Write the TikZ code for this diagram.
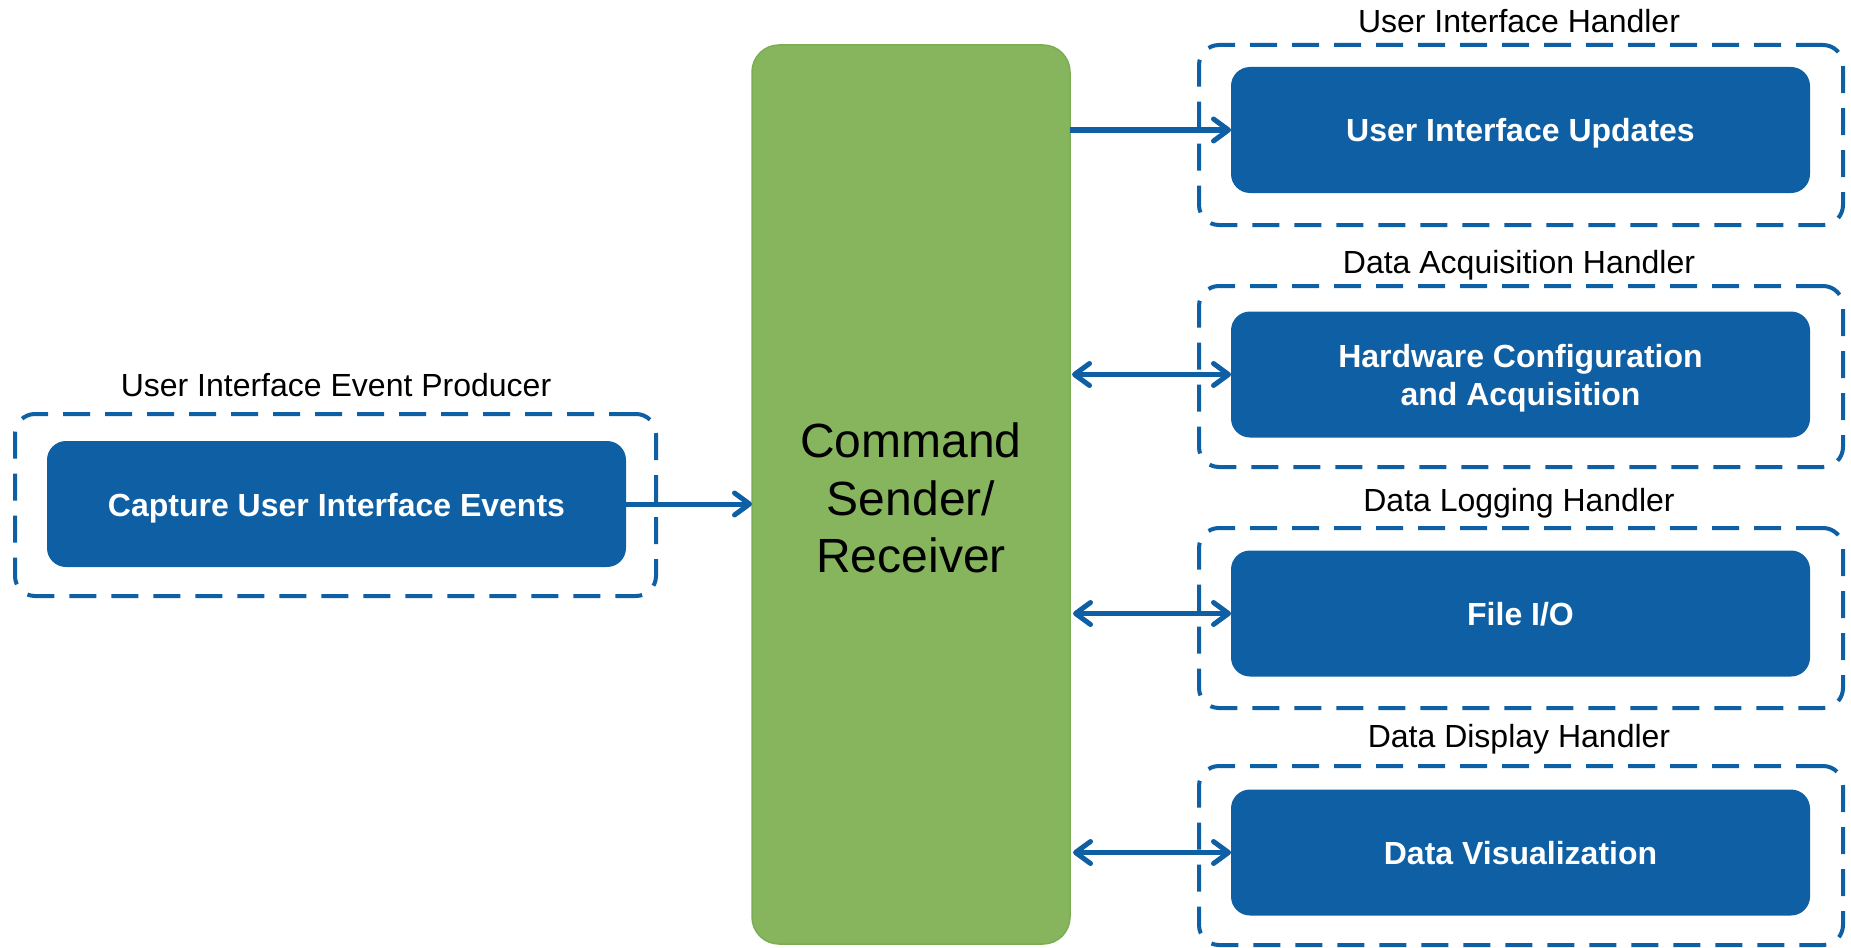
\documentclass[tikz,border=0pt]{standalone}
\usepackage{fontspec}
\setmainfont{Liberation Sans}
\usetikzlibrary{arrows.meta}
\definecolor{niblue}{HTML}{0E5FA3}
\definecolor{cmdgreen}{HTML}{86B55D}
\definecolor{cmdgreenline}{HTML}{7BAE52}
\begin{document}
\begin{tikzpicture}[x=1pt,y=-1pt,
  every node/.style={inner sep=0pt,outer sep=0pt},
  task/.style={fill=niblue,rounded corners=19pt,minimum width=579pt,minimum height=126pt,
    text=white,align=center,font=\fontsize{32}{38.4}\selectfont\bfseries,
    text height=24pt,text depth=0pt},
  group/.style={draw=niblue,line width=4pt,dash pattern=on 27pt off 15pt,
    rounded corners=20pt,minimum width=641pt},
  grouplabel/.style={font=\fontsize{32}{38.4}\selectfont,text=black},
  link/.style={draw=niblue,line width=5pt},
  tip/.tip={Straight Barb[length=15pt,width=22pt,line width=5pt,round]}]
\useasboundingbox (0,0) rectangle (1851,947);

% central command sender/receiver
\node[fill=cmdgreen,draw=cmdgreenline,line width=1.5pt,rounded corners=27pt,
  minimum width=318pt,minimum height=899pt,align=center,
  text height=156.4pt,text depth=0pt,
  font=\fontsize{48}{57.5}\selectfont] (cmd) at (911,494.5) {Command\\Sender/\\Receiver};

% event producer on the left
\node[group,minimum height=182pt] (gprod) at (335.5,505) {};
\node[task] (capture) at (336.5,504) {Capture User Interface Events};
\node[grouplabel] (lprod) at (336,385) {User Interface Event Producer};

% handlers on the right
\node[group,minimum height=180pt,minimum width=644pt] (gui) at (1521,135) {};
\node[task] (uiupd) at (1520.5,130) {User Interface Updates};
\node[grouplabel] (lui) at (1519,21) {User Interface Handler};

\node[group,minimum height=181pt,minimum width=644pt] (gacq) at (1521,376.5) {};
\node[task,text height=62.4pt] (hw) at (1520.5,374.5) {Hardware Configuration\\and Acquisition};
\node[grouplabel] (lacq) at (1519,265.5) {Data Acquisition Handler};

\node[group,minimum height=180pt,minimum width=644pt] (glog) at (1521,618) {};
\node[task] (fileio) at (1520.5,613.5) {File I/O};
\node[grouplabel] (llog) at (1519,503.5) {Data Logging Handler};

\node[group,minimum height=179pt,minimum width=644pt] (gdisp) at (1521,855.5) {};
\node[task] (viz) at (1520.5,852.5) {Data Visualization};
\node[grouplabel] (ldisp) at (1519,739.5) {Data Display Handler};

% connectors
\draw[link,-tip] (capture.east) -- (cmd.west |- capture.east);
\draw[link,-tip] (cmd.east |- uiupd.west) -- (uiupd.west);
\draw[link,tip-tip] ([xshift=2pt]cmd.east |- hw.west) -- (hw.west);
\draw[link,tip-tip] ([xshift=3pt]cmd.east |- fileio.west) -- (fileio.west);
\draw[link,tip-tip] ([xshift=3pt]cmd.east |- viz.west) -- (viz.west);
\end{tikzpicture}
\end{document}
